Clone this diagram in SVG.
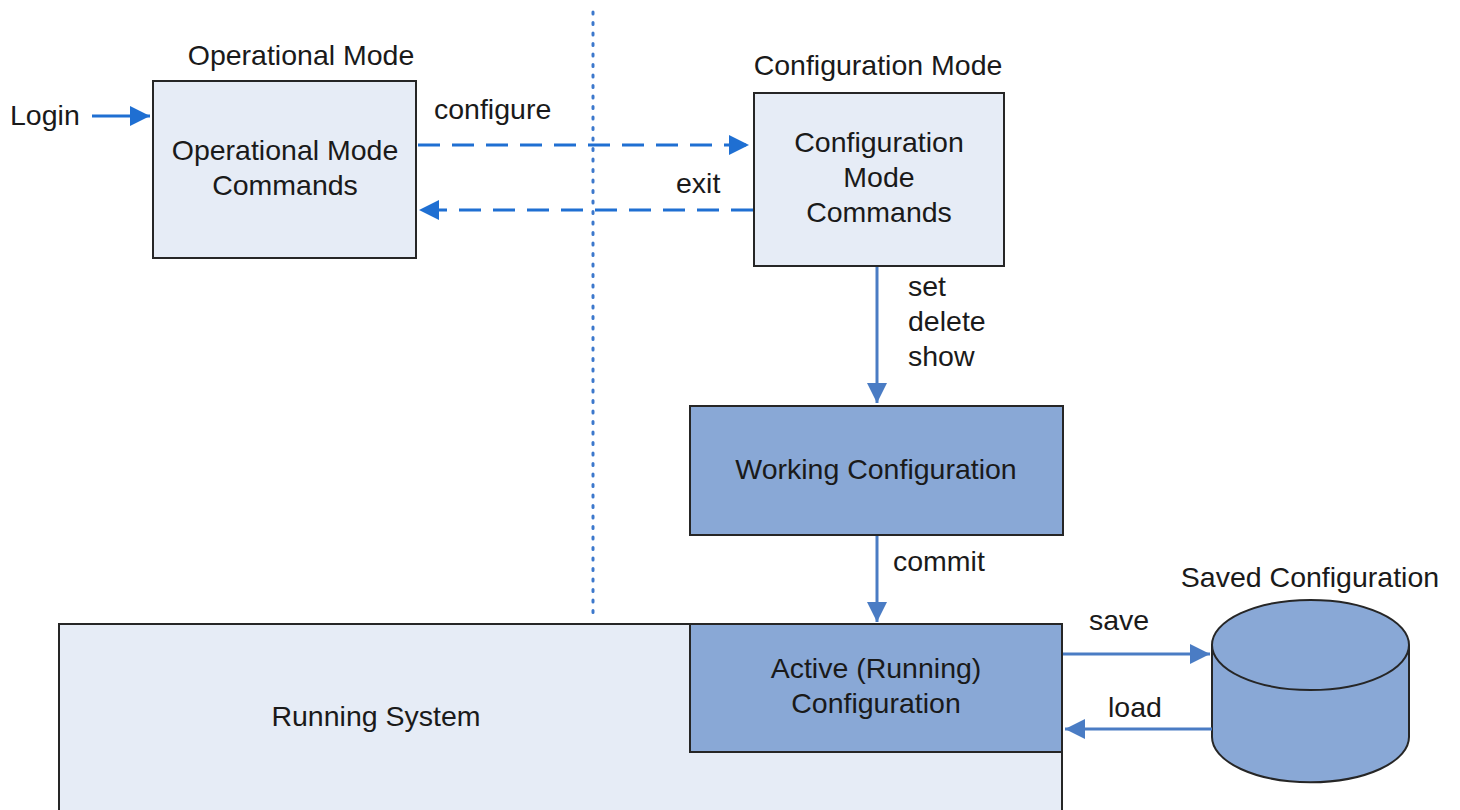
<svg xmlns="http://www.w3.org/2000/svg" width="1460" height="810" viewBox="0 0 1460 810">
<defs>
<style>
text{font-family:"Liberation Sans",Arial,sans-serif;font-size:28.5px;fill:#1a1a1a}
.light{fill:#e6ecf6;stroke:#262626;stroke-width:2}
.dark{fill:#89a8d6;stroke:#262626;stroke-width:2}
.dash{stroke:#1f6fd2;stroke-width:3;stroke-dasharray:22 12;fill:none}
.bl{stroke:#1f6fd2;stroke-width:3;fill:none}
.solid{stroke:#4a7cc4;stroke-width:3;fill:none}
.mid{text-anchor:middle}
</style>
<marker id="abBig" viewBox="0 0 10 10" refX="10" refY="5" markerWidth="28" markerHeight="20" markerUnits="userSpaceOnUse" orient="auto"><path d="M0,0L10,5L0,10z" fill="#1f6fd2"/></marker>
<marker id="as" viewBox="0 0 10 10" refX="10" refY="5" markerWidth="22" markerHeight="20" markerUnits="userSpaceOnUse" orient="auto"><path d="M0,0L10,5L0,10z" fill="#4a7cc4"/></marker>
</defs>
<rect width="1460" height="810" fill="#fff"/>
<line x1="593" y1="12" x2="593" y2="618" stroke="#3c78cc" stroke-width="3" stroke-dasharray="2 8.5" stroke-linecap="round"/>
<g id="running-system"><rect class="light" x="59" y="624" width="1003" height="200"/><text class="mid" x="376" y="726">Running System</text></g>
<g id="operational"><text class="mid" x="301" y="65">Operational Mode</text><rect class="light" x="153" y="81" width="263" height="177"/><text class="mid" x="285" y="160">Operational Mode</text><text class="mid" x="285" y="195">Commands</text></g>
<g id="login"><text x="10" y="125">Login</text></g>
<g id="configuration"><text class="mid" x="878" y="75">Configuration Mode</text><rect class="light" x="754" y="93" width="250" height="173"/><text class="mid" x="879" y="152">Configuration</text><text class="mid" x="879" y="187">Mode</text><text class="mid" x="879" y="222">Commands</text></g>
<g id="working"><rect class="dark" x="690" y="406" width="373" height="129"/><text class="mid" x="876" y="479">Working Configuration</text></g>
<g id="active"><rect class="dark" x="690" y="624" width="372" height="128"/><text class="mid" x="876" y="678">Active (Running)</text><text class="mid" x="876" y="713">Configuration</text></g>
<g id="saved"><text class="mid" x="1310" y="587">Saved Configuration</text><path class="dark" d="M1212,645 L1212,737 A98,45 0 0 0 1409,737 L1409,645"/><ellipse class="dark" cx="1310.5" cy="645" rx="98.5" ry="45"/></g>
<g id="connectors">
<line class="bl" x1="92" y1="116" x2="150" y2="116" marker-end="url(#abBig)"/>
<line class="dash" x1="418" y1="145" x2="749" y2="145" marker-end="url(#abBig)"/>
<line class="dash" x1="753" y1="210" x2="419" y2="210" marker-end="url(#abBig)"/>
<line class="solid" x1="877" y1="267" x2="877" y2="403" marker-end="url(#as)"/>
<line class="solid" x1="877" y1="536" x2="877" y2="622" marker-end="url(#as)"/>
<line class="solid" x1="1063" y1="654" x2="1210" y2="654" marker-end="url(#as)"/>
<line class="solid" x1="1212" y1="729" x2="1065" y2="729" marker-end="url(#as)"/>
<text x="434" y="119">configure</text>
<text x="676" y="193">exit</text>
<text x="908" y="296">set</text>
<text x="908" y="331">delete</text>
<text x="908" y="366">show</text>
<text x="893" y="571">commit</text>
<text x="1089" y="630">save</text>
<text x="1108" y="717">load</text>
</g>
</svg>
